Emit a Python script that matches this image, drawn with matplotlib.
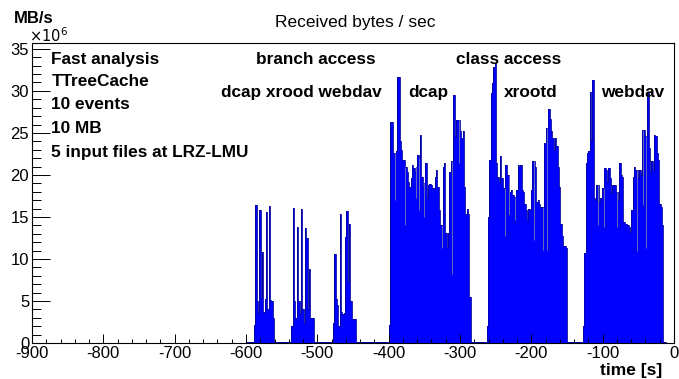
import numpy as np
import matplotlib.pyplot as plt
from matplotlib.ticker import MultipleLocator

plt.rcParams['font.family'] = ['Liberation Sans', 'DejaVu Sans']
plt.rcParams['axes.unicode_minus'] = False

# histogram binning [s]
t_min, t_max = -900, 0
bin_width = 1.875

# received rate per bin, units of 10^6 B/s
idle_level = 0.15
idle_start, idle_end = -600, -13

branch_dcap_start = -588.3
branch_dcap = [2.1, 16.4, 5.0, 3.6, 15.8, 5.3, 10.8, 3.7, 5.2, 15.6, 4.0, 16.3, 5.1, 5.0, 3.0]

branch_xrootd_start = -536.3
branch_xrootd = [2.0, 16.1, 5.0, 3.0, 13.8, 5.0, 3.5, 16.0, 4.0, 2.4, 13.7, 12.5, 4.0, 8.8,
                 3.0, 3.0, 3.0]

branch_webdav_start = -478.0
branch_webdav = [2.4, 10.6, 5.2, 4.5, 2.0, 15.4, 3.7, 3.5, 3.6, 12.6, 15.7, 7.3, 14.2, 5.0,
                 2.9, 2.9, 2.9]

class_dcap_start = -400.0
class_dcap = [2.1, 26.3, 26.3, 22.6, 22.6, 22.8, 31.7, 31.7, 24.0, 23.0, 21.8, 21.8, 21.0,
              20.4, 19.2, 18.6, 19.6, 21.2, 20.8, 20.4, 21.0, 22.4, 22.0, 24.8, 19.8, 18.6,
              19.0, 21.4, 17.2, 18.8, 18.9, 18.8, 18.4, 18.4, 19.8, 20.6, 18.6, 15.8, 14.0,
              14.0, 21.0, 21.4, 13.1, 11.3, 13.1, 20.4, 21.6, 21.6, 29.5, 24.6, 26.5, 26.5,
              26.5, 25.2, 24.4, 25.2, 18.6, 15.4, 16.0, 15.4, 5.5]

class_xrootd_start = -262.5
class_xrootd = [2.0, 15.0, 21.8, 29.7, 30.9, 32.9, 33.3, 21.4, 19.8, 19.2, 22.2, 19.6, 18.4,
                18.4, 21.2, 20.0, 20.0, 18.0, 18.2, 17.6, 17.4, 17.4, 18.2, 21.2, 21.0, 21.2,
                18.2, 18.0, 16.6, 15.8, 14.6, 16.0, 15.8, 18.2, 21.6, 21.6, 21.0, 16.8, 17.0,
                16.6, 16.2, 16.2, 16.2, 23.8, 25.6, 25.6, 27.9, 26.7, 25.2, 24.4, 23.0, 24.4,
                23.4, 21.0, 18.6, 14.2, 12.7, 11.5, 11.5, 11.3]

class_webdav_start = -127.5
class_webdav = [2.0, 10.7, 21.4, 22.6, 22.8, 29.9, 24.0, 31.3, 17.2, 17.0, 18.8, 18.8, 16.8,
                17.2, 18.4, 18.4, 20.8, 20.6, 19.2, 20.8, 19.6, 17.8, 18.8, 18.8, 18.8, 18.0,
                17.0, 21.4, 20.0, 19.8, 14.4, 14.2, 14.2, 14.0, 13.8, 13.2, 15.8, 19.8, 21.0,
                20.6, 20.6, 19.6, 20.6, 20.0, 25.4, 25.4, 24.6, 24.6, 29.9, 23.2, 20.4, 21.6,
                20.6, 24.8, 24.6, 22.6, 21.8, 16.6, 16.2, 14.0]

# single-second drops inside the class-access blocks
dip_t = [-391.6, -376.6, -361.6, -357.8, -350.3, -325.9, -310.9, -301.5,
         -237.2, -231.6, -222.2, -196.9, -183.8, -178.1,
         -105.9, -98.4, -79.7, -52.5, -43.1, -39.4]
dip_v = [17.0, 14.0, 17.2, 15.8, 15.0, 11.3, 8.2, 21.4,
         12.7, 15.4, 14.6, 12.3, 11.1, 11.1,
         14.0, 13.8, 13.8, 10.9, 16.4, 11.3]

blocks = [(branch_dcap_start, branch_dcap), (branch_xrootd_start, branch_xrootd),
          (branch_webdav_start, branch_webdav), (class_dcap_start, class_dcap),
          (class_xrootd_start, class_xrootd), (class_webdav_start, class_webdav)]

edges = np.arange(t_min, t_max + bin_width / 2, bin_width)
rate = np.zeros(len(edges) - 1)
rate[(edges[:-1] >= idle_start) & (edges[:-1] < idle_end)] = idle_level
for start, vals in blocks:
    i = int(round((start - t_min) / bin_width))
    rate[i:i + len(vals)] = vals

fig = plt.figure(figsize=(6.79, 3.79), dpi=100)
ax = fig.add_axes([32 / 679, 36 / 379, 642 / 679, 300 / 379])

ax.stairs(rate, edges, fill=True, color='#0000ff', lw=0)
ax.stairs(rate, edges, color='#0000a0', lw=0.6)
dip_top = rate[np.searchsorted(edges, dip_t) - 1]
ax.vlines(dip_t, dip_v, dip_top, color='#6a6ab4', lw=0.7)

ax.set_xlim(t_min, t_max)
ax.set_ylim(0, 35.7)

ax.xaxis.set_major_locator(MultipleLocator(100))
ax.xaxis.set_minor_locator(MultipleLocator(20))
ax.yaxis.set_major_locator(MultipleLocator(5))
ax.yaxis.set_minor_locator(MultipleLocator(1))
ax.tick_params(axis='both', which='both', direction='in', labelsize=12, width=0.7)
ax.tick_params(axis='x', which='major', length=6.5, pad=2.5)
ax.tick_params(axis='x', which='minor', length=3.2)
ax.tick_params(axis='y', which='major', length=13, pad=2)
ax.tick_params(axis='y', which='minor', length=6.2)
for s in ax.spines.values():
    s.set_linewidth(0.8)

# labels
fig.text(355 / 679, 1 - 26.7 / 379, 'Received bytes / sec', ha='center', va='baseline', fontsize=12.5)
fig.text(14 / 679, 1 - 22.7 / 379, 'MB/s', ha='left', va='baseline', fontsize=12, fontweight='bold')
fig.text(29 / 679, 1 - 41.7 / 379, r'$\times10^{6}$', ha='left', va='baseline', fontsize=10.5)
fig.text(662 / 679, 1 - 375 / 379, 'time [s]', ha='right', va='baseline', fontsize=12.5,
         fontweight='bold')

info = ['Fast analysis', 'TTreeCache', '10 events', '10 MB', '5 input files at LRZ-LMU']
info_y = [33.2, 30.6, 27.9, 25.0, 22.1]
for txt, y in zip(info, info_y):
    ax.text(-873, y, txt, fontsize=12.4, fontweight='bold', va='baseline')

ax.text(-585.5, 33.2, 'branch access', fontsize=12.4, fontweight='bold', va='baseline')
ax.text(-635.0, 29.3, 'dcap xrood webdav', fontsize=12.4, fontweight='bold', va='baseline')
ax.text(-372.1, 29.3, 'dcap', fontsize=12.4, fontweight='bold', va='baseline')
ax.text(-306.1, 33.2, 'class access', fontsize=12.4, fontweight='bold', va='baseline')
ax.text(-239.1, 29.3, 'xrootd', fontsize=12.4, fontweight='bold', va='baseline')
ax.text(-102.5, 29.3, 'webdav', fontsize=12.4, fontweight='bold', va='baseline')

fig.savefig('out.png', dpi=100)
